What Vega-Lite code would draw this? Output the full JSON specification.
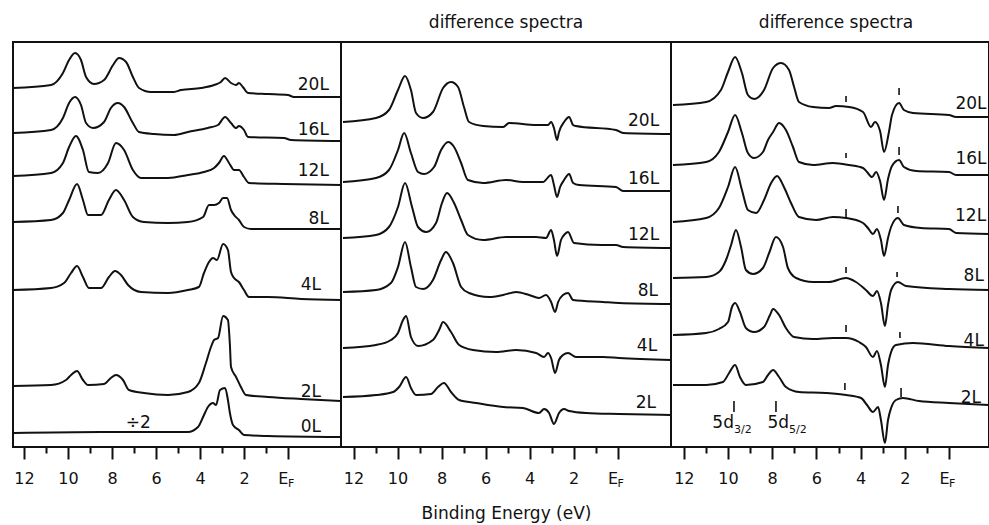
{
  "$schema": "https://vega.github.io/schema/vega-lite/v6.json",
  "padding": {"left": 8, "top": 13, "right": 0, "bottom": 4},
  "spacing": 0,
  "bounds": "flush",
  "config": {
    "view": {"stroke": "#111", "strokeWidth": 2},
    "font": "DejaVu Sans",
    "text": {"font": "DejaVu Sans", "color": "#111"},
    "axisX": {
      "labelExpr": "datum.value === 0 ? 'E' : (datum.value % 2 === 0 ? datum.label : '')",
      "tickSize": {"condition": {"test": "datum.value % 2 === 0", "value": 12}, "value": 6},
      "tickWidth": 2,
      "tickColor": "#111",
      "domain": false,
      "grid": false,
      "labelFont": "DejaVu Sans",
      "labelFontSize": 16,
      "labelColor": "#111",
      "labelPadding": 11,
      "labelAlign": {"condition": {"test": "datum.value === 0", "value": "right"}, "value": "center"},
      "labelFlush": false,
      "labelOverlap": false,
      "labelBound": false,
      "titleFont": "DejaVu Sans",
      "titleFontSize": 17,
      "titleFontWeight": "normal",
      "titleColor": "#111",
      "titlePadding": 19
    },
    "title": {"font": "DejaVu Sans", "fontSize": 17, "fontWeight": "normal", "color": "#111", "anchor": "middle", "baseline": "alphabetic", "offset": 10}
  },
  "datasets": {
    "c1": [
      {"s":"20L","eV":12.5,"I":359},{"s":"20L","eV":10.77,"I":362},{"s":"20L","eV":10.23,"I":374},{"s":"20L","eV":9.95,"I":387},{"s":"20L","eV":9.68,"I":394},{"s":"20L","eV":9.41,"I":387},{"s":"20L","eV":9.18,"I":370},{"s":"20L","eV":8.82,"I":363},{"s":"20L","eV":8.36,"I":367},{"s":"20L","eV":7.95,"I":382},{"s":"20L","eV":7.68,"I":389},{"s":"20L","eV":7.36,"I":385},{"s":"20L","eV":7.05,"I":370},{"s":"20L","eV":6.77,"I":359},{"s":"20L","eV":6.23,"I":355},{"s":"20L","eV":5.18,"I":355},{"s":"20L","eV":4.86,"I":357},{"s":"20L","eV":3.95,"I":359},{"s":"20L","eV":3.36,"I":362},{"s":"20L","eV":3.05,"I":365},{"s":"20L","eV":2.86,"I":369},{"s":"20L","eV":2.59,"I":364},{"s":"20L","eV":2.36,"I":362},{"s":"20L","eV":2.23,"I":364},{"s":"20L","eV":2.05,"I":360},{"s":"20L","eV":1.82,"I":354},{"s":"20L","eV":0.91,"I":353},{"s":"20L","eV":0,"I":352},{"s":"20L","eV":-0.27,"I":350},{"s":"20L","eV":-2.41,"I":350},
      {"s":"16L","eV":12.5,"I":314},{"s":"16L","eV":10.77,"I":317},{"s":"16L","eV":10.23,"I":329},{"s":"16L","eV":9.95,"I":344},{"s":"16L","eV":9.68,"I":350},{"s":"16L","eV":9.41,"I":342},{"s":"16L","eV":9.18,"I":324},{"s":"16L","eV":8.86,"I":319},{"s":"16L","eV":8.36,"I":325},{"s":"16L","eV":8.05,"I":339},{"s":"16L","eV":7.73,"I":344},{"s":"16L","eV":7.45,"I":340},{"s":"16L","eV":7.05,"I":324},{"s":"16L","eV":6.77,"I":315},{"s":"16L","eV":6.09,"I":313},{"s":"16L","eV":5.18,"I":312},{"s":"16L","eV":4.55,"I":315},{"s":"16L","eV":3.64,"I":319},{"s":"16L","eV":3.18,"I":322},{"s":"16L","eV":2.86,"I":330},{"s":"16L","eV":2.59,"I":324},{"s":"16L","eV":2.36,"I":319},{"s":"16L","eV":2.23,"I":321},{"s":"16L","eV":2.0,"I":317},{"s":"16L","eV":1.82,"I":310},{"s":"16L","eV":0.18,"I":309},{"s":"16L","eV":-0.14,"I":307},{"s":"16L","eV":-2.41,"I":306},
      {"s":"12L","eV":12.5,"I":271},{"s":"12L","eV":10.77,"I":274},{"s":"12L","eV":10.23,"I":284},{"s":"12L","eV":9.95,"I":300},{"s":"12L","eV":9.64,"I":311},{"s":"12L","eV":9.32,"I":297},{"s":"12L","eV":9.05,"I":275},{"s":"12L","eV":8.64,"I":274},{"s":"12L","eV":8.18,"I":284},{"s":"12L","eV":7.82,"I":304},{"s":"12L","eV":7.45,"I":297},{"s":"12L","eV":7.05,"I":277},{"s":"12L","eV":6.68,"I":269},{"s":"12L","eV":5.45,"I":269},{"s":"12L","eV":4.55,"I":272},{"s":"12L","eV":3.82,"I":275},{"s":"12L","eV":3.36,"I":279},{"s":"12L","eV":3.14,"I":284},{"s":"12L","eV":2.91,"I":291},{"s":"12L","eV":2.68,"I":284},{"s":"12L","eV":2.45,"I":277},{"s":"12L","eV":2.23,"I":277},{"s":"12L","eV":2.0,"I":270},{"s":"12L","eV":1.77,"I":264},{"s":"12L","eV":0.18,"I":263},{"s":"12L","eV":-2.41,"I":262},
      {"s":"8L","eV":12.5,"I":225},{"s":"8L","eV":10.77,"I":227},{"s":"8L","eV":10.23,"I":234},{"s":"8L","eV":9.95,"I":247},{"s":"8L","eV":9.59,"I":263},{"s":"8L","eV":9.32,"I":247},{"s":"8L","eV":9.09,"I":232},{"s":"8L","eV":8.5,"I":232},{"s":"8L","eV":8.14,"I":247},{"s":"8L","eV":7.82,"I":257},{"s":"8L","eV":7.45,"I":247},{"s":"8L","eV":7.05,"I":230},{"s":"8L","eV":6.55,"I":225},{"s":"8L","eV":5.45,"I":224},{"s":"8L","eV":4.55,"I":225},{"s":"8L","eV":3.86,"I":230},{"s":"8L","eV":3.59,"I":242},{"s":"8L","eV":3.36,"I":242},{"s":"8L","eV":3.14,"I":244},{"s":"8L","eV":2.95,"I":249},{"s":"8L","eV":2.77,"I":249},{"s":"8L","eV":2.59,"I":237},{"s":"8L","eV":2.45,"I":232},{"s":"8L","eV":2.23,"I":227},{"s":"8L","eV":2.0,"I":220},{"s":"8L","eV":1.68,"I":218},{"s":"8L","eV":0.18,"I":218},{"s":"8L","eV":-2.41,"I":218},
      {"s":"4L","eV":12.5,"I":157},{"s":"4L","eV":10.77,"I":159},{"s":"4L","eV":10.18,"I":164},{"s":"4L","eV":9.86,"I":174},{"s":"4L","eV":9.59,"I":181},{"s":"4L","eV":9.32,"I":170},{"s":"4L","eV":9.05,"I":159},{"s":"4L","eV":8.5,"I":159},{"s":"4L","eV":8.14,"I":170},{"s":"4L","eV":7.86,"I":176},{"s":"4L","eV":7.59,"I":172},{"s":"4L","eV":7.27,"I":162},{"s":"4L","eV":6.68,"I":155},{"s":"4L","eV":5.45,"I":154},{"s":"4L","eV":4.55,"I":157},{"s":"4L","eV":4.05,"I":160},{"s":"4L","eV":3.82,"I":174},{"s":"4L","eV":3.59,"I":185},{"s":"4L","eV":3.41,"I":189},{"s":"4L","eV":3.23,"I":187},{"s":"4L","eV":2.95,"I":203},{"s":"4L","eV":2.73,"I":197},{"s":"4L","eV":2.59,"I":175},{"s":"4L","eV":2.45,"I":169},{"s":"4L","eV":2.23,"I":165},{"s":"4L","eV":2.0,"I":157},{"s":"4L","eV":1.77,"I":150},{"s":"4L","eV":0.91,"I":150},{"s":"4L","eV":-0.59,"I":148},{"s":"4L","eV":-2.41,"I":147},
      {"s":"2L","eV":12.5,"I":61},{"s":"2L","eV":10.77,"I":62},{"s":"2L","eV":10.09,"I":67},{"s":"2L","eV":9.86,"I":72},{"s":"2L","eV":9.59,"I":76},{"s":"2L","eV":9.32,"I":67},{"s":"2L","eV":9.09,"I":62},{"s":"2L","eV":8.36,"I":63},{"s":"2L","eV":8.05,"I":69},{"s":"2L","eV":7.82,"I":72},{"s":"2L","eV":7.5,"I":67},{"s":"2L","eV":7.23,"I":57},{"s":"2L","eV":6.55,"I":54},{"s":"2L","eV":5.45,"I":52},{"s":"2L","eV":4.55,"I":55},{"s":"2L","eV":4.05,"I":64},{"s":"2L","eV":3.73,"I":84},{"s":"2L","eV":3.5,"I":100},{"s":"2L","eV":3.36,"I":107},{"s":"2L","eV":3.18,"I":109},{"s":"2L","eV":2.95,"I":131},{"s":"2L","eV":2.73,"I":127},{"s":"2L","eV":2.64,"I":102},{"s":"2L","eV":2.59,"I":80},{"s":"2L","eV":2.36,"I":70},{"s":"2L","eV":2.14,"I":60},{"s":"2L","eV":1.91,"I":52},{"s":"2L","eV":0.91,"I":50},{"s":"2L","eV":-0.59,"I":48},{"s":"2L","eV":-2.41,"I":46},
      {"s":"0L","eV":12.5,"I":14},{"s":"0L","eV":8.5,"I":15},{"s":"0L","eV":4.55,"I":15},{"s":"0L","eV":4.09,"I":20},{"s":"0L","eV":3.86,"I":30},{"s":"0L","eV":3.64,"I":40},{"s":"0L","eV":3.41,"I":44},{"s":"0L","eV":3.27,"I":42},{"s":"0L","eV":3.09,"I":57},{"s":"0L","eV":2.86,"I":59},{"s":"0L","eV":2.73,"I":47},{"s":"0L","eV":2.64,"I":34},{"s":"0L","eV":2.5,"I":22},{"s":"0L","eV":2.23,"I":17},{"s":"0L","eV":2.0,"I":12},{"s":"0L","eV":0.91,"I":11},{"s":"0L","eV":-2.41,"I":10}
    ],
    "c2": [
      {"s":"20L","eV":12.48,"I":325},{"s":"20L","eV":10.98,"I":329},{"s":"20L","eV":10.39,"I":337},{"s":"20L","eV":9.98,"I":357},{"s":"20L","eV":9.66,"I":371},{"s":"20L","eV":9.39,"I":357},{"s":"20L","eV":9.16,"I":334},{"s":"20L","eV":8.84,"I":329},{"s":"20L","eV":8.39,"I":335},{"s":"20L","eV":7.93,"I":359},{"s":"20L","eV":7.57,"I":365},{"s":"20L","eV":7.25,"I":360},{"s":"20L","eV":6.98,"I":340},{"s":"20L","eV":6.75,"I":325},{"s":"20L","eV":6.11,"I":321},{"s":"20L","eV":5.2,"I":320},{"s":"20L","eV":4.93,"I":324},{"s":"20L","eV":3.7,"I":322},{"s":"20L","eV":3.16,"I":322},{"s":"20L","eV":3.02,"I":325},{"s":"20L","eV":2.89,"I":319},{"s":"20L","eV":2.75,"I":307},{"s":"20L","eV":2.66,"I":315},{"s":"20L","eV":2.43,"I":325},{"s":"20L","eV":2.2,"I":330},{"s":"20L","eV":2.02,"I":322},{"s":"20L","eV":1.89,"I":321},{"s":"20L","eV":0.07,"I":317},{"s":"20L","eV":-0.25,"I":314},{"s":"20L","eV":-2.43,"I":313},
      {"s":"16L","eV":12.48,"I":265},{"s":"16L","eV":10.98,"I":269},{"s":"16L","eV":10.39,"I":277},{"s":"16L","eV":9.98,"I":297},{"s":"16L","eV":9.7,"I":314},{"s":"16L","eV":9.39,"I":294},{"s":"16L","eV":9.07,"I":275},{"s":"16L","eV":8.8,"I":273},{"s":"16L","eV":8.34,"I":280},{"s":"16L","eV":8.02,"I":297},{"s":"16L","eV":7.7,"I":305},{"s":"16L","eV":7.43,"I":300},{"s":"16L","eV":7.11,"I":284},{"s":"16L","eV":6.8,"I":267},{"s":"16L","eV":6.11,"I":264},{"s":"16L","eV":5.07,"I":267},{"s":"16L","eV":4.3,"I":265},{"s":"16L","eV":3.39,"I":265},{"s":"16L","eV":3.02,"I":272},{"s":"16L","eV":2.89,"I":262},{"s":"16L","eV":2.75,"I":250},{"s":"16L","eV":2.61,"I":260},{"s":"16L","eV":2.43,"I":267},{"s":"16L","eV":2.2,"I":273},{"s":"16L","eV":2.02,"I":264},{"s":"16L","eV":1.75,"I":262},{"s":"16L","eV":0.07,"I":260},{"s":"16L","eV":-0.25,"I":256},{"s":"16L","eV":-2.43,"I":256},
      {"s":"12L","eV":12.48,"I":209},{"s":"12L","eV":10.98,"I":212},{"s":"12L","eV":10.39,"I":220},{"s":"12L","eV":9.98,"I":240},{"s":"12L","eV":9.66,"I":264},{"s":"12L","eV":9.34,"I":240},{"s":"12L","eV":9.07,"I":220},{"s":"12L","eV":8.7,"I":215},{"s":"12L","eV":8.25,"I":224},{"s":"12L","eV":7.98,"I":244},{"s":"12L","eV":7.75,"I":254},{"s":"12L","eV":7.43,"I":244},{"s":"12L","eV":7.11,"I":227},{"s":"12L","eV":6.8,"I":212},{"s":"12L","eV":6.11,"I":207},{"s":"12L","eV":5.07,"I":210},{"s":"12L","eV":3.7,"I":210},{"s":"12L","eV":3.25,"I":209},{"s":"12L","eV":3.02,"I":217},{"s":"12L","eV":2.89,"I":207},{"s":"12L","eV":2.75,"I":191},{"s":"12L","eV":2.57,"I":207},{"s":"12L","eV":2.39,"I":213},{"s":"12L","eV":2.25,"I":215},{"s":"12L","eV":1.98,"I":204},{"s":"12L","eV":0.75,"I":202},{"s":"12L","eV":0.07,"I":202},{"s":"12L","eV":-0.25,"I":200},{"s":"12L","eV":-2.43,"I":199},
      {"s":"8L","eV":12.48,"I":155},{"s":"8L","eV":10.98,"I":157},{"s":"8L","eV":10.3,"I":164},{"s":"8L","eV":9.98,"I":180},{"s":"8L","eV":9.66,"I":205},{"s":"8L","eV":9.39,"I":180},{"s":"8L","eV":9.16,"I":160},{"s":"8L","eV":8.84,"I":158},{"s":"8L","eV":8.39,"I":167},{"s":"8L","eV":8.02,"I":187},{"s":"8L","eV":7.8,"I":195},{"s":"8L","eV":7.48,"I":184},{"s":"8L","eV":7.11,"I":160},{"s":"8L","eV":6.75,"I":154},{"s":"8L","eV":5.84,"I":150},{"s":"8L","eV":5.2,"I":152},{"s":"8L","eV":4.61,"I":155},{"s":"8L","eV":4.02,"I":152},{"s":"8L","eV":3.57,"I":149},{"s":"8L","eV":3.25,"I":152},{"s":"8L","eV":3.02,"I":145},{"s":"8L","eV":2.84,"I":135},{"s":"8L","eV":2.7,"I":145},{"s":"8L","eV":2.48,"I":152},{"s":"8L","eV":2.25,"I":154},{"s":"8L","eV":2.02,"I":147},{"s":"8L","eV":0.66,"I":145},{"s":"8L","eV":-0.07,"I":144},{"s":"8L","eV":-2.43,"I":143},
      {"s":"4L","eV":12.48,"I":99},{"s":"4L","eV":10.98,"I":102},{"s":"4L","eV":10.3,"I":107},{"s":"4L","eV":9.98,"I":114},{"s":"4L","eV":9.75,"I":127},{"s":"4L","eV":9.61,"I":131},{"s":"4L","eV":9.39,"I":110},{"s":"4L","eV":9.07,"I":101},{"s":"4L","eV":8.39,"I":107},{"s":"4L","eV":8.11,"I":117},{"s":"4L","eV":7.93,"I":125},{"s":"4L","eV":7.57,"I":115},{"s":"4L","eV":7.2,"I":102},{"s":"4L","eV":6.57,"I":97},{"s":"4L","eV":5.52,"I":95},{"s":"4L","eV":4.61,"I":97},{"s":"4L","eV":3.7,"I":94},{"s":"4L","eV":3.34,"I":90},{"s":"4L","eV":3.16,"I":94},{"s":"4L","eV":3.02,"I":89},{"s":"4L","eV":2.84,"I":74},{"s":"4L","eV":2.66,"I":87},{"s":"4L","eV":2.48,"I":92},{"s":"4L","eV":2.25,"I":94},{"s":"4L","eV":1.89,"I":90},{"s":"4L","eV":0.66,"I":90},{"s":"4L","eV":-0.07,"I":89},{"s":"4L","eV":-2.43,"I":87},
      {"s":"2L","eV":12.48,"I":50},{"s":"2L","eV":10.98,"I":52},{"s":"2L","eV":10.2,"I":55},{"s":"2L","eV":9.93,"I":60},{"s":"2L","eV":9.61,"I":70},{"s":"2L","eV":9.39,"I":59},{"s":"2L","eV":9.16,"I":52},{"s":"2L","eV":8.48,"I":53},{"s":"2L","eV":8.16,"I":60},{"s":"2L","eV":7.89,"I":64},{"s":"2L","eV":7.57,"I":55},{"s":"2L","eV":7.2,"I":47},{"s":"2L","eV":6.43,"I":44},{"s":"2L","eV":5.2,"I":40},{"s":"2L","eV":4.3,"I":39},{"s":"2L","eV":3.57,"I":34},{"s":"2L","eV":3.34,"I":38},{"s":"2L","eV":3.11,"I":34},{"s":"2L","eV":2.89,"I":23},{"s":"2L","eV":2.66,"I":34},{"s":"2L","eV":2.43,"I":38},{"s":"2L","eV":2.2,"I":36},{"s":"2L","eV":1.43,"I":34},{"s":"2L","eV":-0.07,"I":33},{"s":"2L","eV":-2.43,"I":32}
    ],
    "c3": [
      {"s":"20L","eV":12.49,"I":342},{"s":"20L","eV":10.99,"I":345},{"s":"20L","eV":10.32,"I":357},{"s":"20L","eV":10.0,"I":375},{"s":"20L","eV":9.68,"I":390},{"s":"20L","eV":9.37,"I":374},{"s":"20L","eV":9.1,"I":352},{"s":"20L","eV":8.82,"I":348},{"s":"20L","eV":8.37,"I":357},{"s":"20L","eV":7.96,"I":379},{"s":"20L","eV":7.6,"I":384},{"s":"20L","eV":7.24,"I":377},{"s":"20L","eV":7.01,"I":360},{"s":"20L","eV":6.79,"I":345},{"s":"20L","eV":6.15,"I":340},{"s":"20L","eV":5.43,"I":339},{"s":"20L","eV":5.11,"I":341},{"s":"20L","eV":4.52,"I":340},{"s":"20L","eV":3.89,"I":335},{"s":"20L","eV":3.53,"I":320},{"s":"20L","eV":3.35,"I":325},{"s":"20L","eV":3.12,"I":316},{"s":"20L","eV":2.94,"I":295},{"s":"20L","eV":2.71,"I":316},{"s":"20L","eV":2.58,"I":332},{"s":"20L","eV":2.26,"I":344},{"s":"20L","eV":2.04,"I":337},{"s":"20L","eV":1.63,"I":334},{"s":"20L","eV":0,"I":332},{"s":"20L","eV":-0.32,"I":330},{"s":"20L","eV":-1.81,"I":330},
      {"s":"16L","eV":12.49,"I":282},{"s":"16L","eV":10.99,"I":285},{"s":"16L","eV":10.41,"I":295},{"s":"16L","eV":10.0,"I":315},{"s":"16L","eV":9.68,"I":332},{"s":"16L","eV":9.37,"I":314},{"s":"16L","eV":9.1,"I":294},{"s":"16L","eV":8.82,"I":289},{"s":"16L","eV":8.42,"I":295},{"s":"16L","eV":8.19,"I":307},{"s":"16L","eV":7.96,"I":315},{"s":"16L","eV":7.69,"I":324},{"s":"16L","eV":7.38,"I":317},{"s":"16L","eV":7.06,"I":300},{"s":"16L","eV":6.79,"I":285},{"s":"16L","eV":6.15,"I":282},{"s":"16L","eV":5.25,"I":284},{"s":"16L","eV":4.52,"I":282},{"s":"16L","eV":3.89,"I":279},{"s":"16L","eV":3.71,"I":275},{"s":"16L","eV":3.48,"I":270},{"s":"16L","eV":3.3,"I":275},{"s":"16L","eV":3.12,"I":266},{"s":"16L","eV":2.94,"I":247},{"s":"16L","eV":2.76,"I":268},{"s":"16L","eV":2.58,"I":281},{"s":"16L","eV":2.26,"I":287},{"s":"16L","eV":2.04,"I":280},{"s":"16L","eV":1.49,"I":276},{"s":"16L","eV":0,"I":275},{"s":"16L","eV":-0.32,"I":272},{"s":"16L","eV":-1.81,"I":272},
      {"s":"12L","eV":12.49,"I":225},{"s":"12L","eV":10.99,"I":229},{"s":"12L","eV":10.41,"I":239},{"s":"12L","eV":10.0,"I":260},{"s":"12L","eV":9.68,"I":280},{"s":"12L","eV":9.37,"I":257},{"s":"12L","eV":9.1,"I":237},{"s":"12L","eV":8.73,"I":234},{"s":"12L","eV":8.37,"I":247},{"s":"12L","eV":8.05,"I":264},{"s":"12L","eV":7.78,"I":271},{"s":"12L","eV":7.47,"I":260},{"s":"12L","eV":7.15,"I":244},{"s":"12L","eV":6.79,"I":230},{"s":"12L","eV":6.02,"I":227},{"s":"12L","eV":5.25,"I":230},{"s":"12L","eV":4.66,"I":229},{"s":"12L","eV":3.89,"I":224},{"s":"12L","eV":3.67,"I":219},{"s":"12L","eV":3.44,"I":213},{"s":"12L","eV":3.26,"I":218},{"s":"12L","eV":3.08,"I":207},{"s":"12L","eV":2.94,"I":191},{"s":"12L","eV":2.76,"I":209},{"s":"12L","eV":2.62,"I":220},{"s":"12L","eV":2.31,"I":229},{"s":"12L","eV":2.04,"I":222},{"s":"12L","eV":1.27,"I":219},{"s":"12L","eV":0,"I":218},{"s":"12L","eV":-0.32,"I":214},{"s":"12L","eV":-1.81,"I":213},
      {"s":"8L","eV":12.49,"I":169},{"s":"8L","eV":10.99,"I":170},{"s":"8L","eV":10.41,"I":175},{"s":"8L","eV":10.09,"I":187},{"s":"8L","eV":9.86,"I":202},{"s":"8L","eV":9.64,"I":217},{"s":"8L","eV":9.41,"I":200},{"s":"8L","eV":9.19,"I":177},{"s":"8L","eV":8.87,"I":173},{"s":"8L","eV":8.42,"I":179},{"s":"8L","eV":8.14,"I":194},{"s":"8L","eV":7.83,"I":210},{"s":"8L","eV":7.51,"I":200},{"s":"8L","eV":7.29,"I":179},{"s":"8L","eV":6.92,"I":169},{"s":"8L","eV":6.15,"I":165},{"s":"8L","eV":5.43,"I":165},{"s":"8L","eV":4.66,"I":169},{"s":"8L","eV":4.21,"I":165},{"s":"8L","eV":3.76,"I":157},{"s":"8L","eV":3.44,"I":151},{"s":"8L","eV":3.26,"I":156},{"s":"8L","eV":3.08,"I":144},{"s":"8L","eV":2.9,"I":121},{"s":"8L","eV":2.76,"I":142},{"s":"8L","eV":2.62,"I":157},{"s":"8L","eV":2.31,"I":165},{"s":"8L","eV":1.95,"I":161},{"s":"8L","eV":0,"I":158},{"s":"8L","eV":-1.81,"I":157},
      {"s":"4L","eV":12.49,"I":112},{"s":"4L","eV":10.99,"I":114},{"s":"4L","eV":10.41,"I":118},{"s":"4L","eV":10.0,"I":125},{"s":"4L","eV":9.82,"I":140},{"s":"4L","eV":9.68,"I":144},{"s":"4L","eV":9.46,"I":135},{"s":"4L","eV":9.19,"I":119},{"s":"4L","eV":8.82,"I":115},{"s":"4L","eV":8.37,"I":120},{"s":"4L","eV":8.1,"I":132},{"s":"4L","eV":7.96,"I":138},{"s":"4L","eV":7.69,"I":132},{"s":"4L","eV":7.38,"I":119},{"s":"4L","eV":7.01,"I":110},{"s":"4L","eV":6.15,"I":108},{"s":"4L","eV":5.25,"I":109},{"s":"4L","eV":4.66,"I":109},{"s":"4L","eV":4.07,"I":105},{"s":"4L","eV":3.76,"I":100},{"s":"4L","eV":3.44,"I":90},{"s":"4L","eV":3.26,"I":96},{"s":"4L","eV":3.08,"I":82},{"s":"4L","eV":2.9,"I":60},{"s":"4L","eV":2.76,"I":82},{"s":"4L","eV":2.62,"I":95},{"s":"4L","eV":2.4,"I":102},{"s":"4L","eV":1.63,"I":104},{"s":"4L","eV":0,"I":101},{"s":"4L","eV":-1.81,"I":99},
      {"s":"2L","eV":12.49,"I":62},{"s":"2L","eV":10.99,"I":62},{"s":"2L","eV":10.23,"I":65},{"s":"2L","eV":9.95,"I":74},{"s":"2L","eV":9.68,"I":82},{"s":"2L","eV":9.46,"I":70},{"s":"2L","eV":9.19,"I":62},{"s":"2L","eV":8.42,"I":65},{"s":"2L","eV":8.19,"I":72},{"s":"2L","eV":7.96,"I":77},{"s":"2L","eV":7.69,"I":70},{"s":"2L","eV":7.38,"I":60},{"s":"2L","eV":6.79,"I":55},{"s":"2L","eV":5.57,"I":54},{"s":"2L","eV":4.66,"I":52},{"s":"2L","eV":3.98,"I":49},{"s":"2L","eV":3.71,"I":42},{"s":"2L","eV":3.44,"I":35},{"s":"2L","eV":3.21,"I":40},{"s":"2L","eV":3.08,"I":27},{"s":"2L","eV":2.9,"I":4},{"s":"2L","eV":2.76,"I":27},{"s":"2L","eV":2.62,"I":39},{"s":"2L","eV":2.4,"I":47},{"s":"2L","eV":2.08,"I":49},{"s":"2L","eV":1.36,"I":46},{"s":"2L","eV":0,"I":44},{"s":"2L","eV":-1.81,"I":42}
    ],
    "l1": [{"s":"20L","eV":-1.86,"I":362},{"s":"16L","eV":-1.86,"I":317},{"s":"12L","eV":-1.86,"I":276},{"s":"8L","eV":-1.86,"I":228},{"s":"4L","eV":-1.5,"I":162},{"s":"2L","eV":-1.5,"I":55},{"s":"0L","eV":-1.5,"I":20}],
    "l2": [{"s":"20L","eV":-1.89,"I":326},{"s":"16L","eV":-1.89,"I":268},{"s":"12L","eV":-1.89,"I":212},{"s":"8L","eV":-1.84,"I":156},{"s":"4L","eV":-1.8,"I":101},{"s":"2L","eV":-1.75,"I":44}],
    "l3": [{"s":"20L","eV":-1.7,"I":343},{"s":"16L","eV":-1.7,"I":288},{"s":"12L","eV":-1.68,"I":231},{"s":"8L","eV":-1.58,"I":171},{"s":"4L","eV":-1.58,"I":106},{"s":"2L","eV":-1.45,"I":49}],
    "m3": [{"eV":4.66,"I":345,"I2":351},{"eV":2.26,"I":352,"I2":359},{"eV":4.66,"I":289,"I2":294},{"eV":2.26,"I":292,"I2":300},{"eV":4.66,"I":230,"I2":238},{"eV":2.31,"I":234,"I2":241},{"eV":4.66,"I":174,"I2":180},{"eV":2.35,"I":170,"I2":175},{"eV":4.66,"I":115,"I2":122},{"eV":2.22,"I":109,"I2":115},{"eV":4.71,"I":57,"I2":64},{"eV":2.17,"I":50,"I2":59},{"eV":9.73,"I":35,"I2":46},{"eV":7.83,"I":35,"I2":46}],
    "f": [{"eV":0,"I":-37,"t":"F"}]
  },
  "hconcat": [
    {
      "width": 328, "height": 405,
      "encoding": {
        "x": {"field": "eV", "type": "quantitative", "scale": {"domain": [12.5, -2.41], "nice": false, "zero": false}, "axis": {"title": null, "values": [0, 1, 2, 3, 4, 5, 6, 7, 8, 9, 10, 11, 12]}},
        "y": {"field": "I", "type": "quantitative", "scale": {"domain": [0, 405], "nice": false, "zero": false}, "axis": null}
      },
      "layer": [
        {"data": {"name": "c1"}, "mark": {"type": "line", "interpolate": "monotone", "strokeWidth": 2, "color": "#111"}, "encoding": {"detail": {"field": "s"}}},
        {"data": {"name": "l1"}, "mark": {"type": "text", "align": "right", "baseline": "middle", "fontSize": 17}, "encoding": {"text": {"field": "s"}}},
        {"data": {"values": [{"eV": 6.8, "I": 24, "t": "÷2"}]}, "mark": {"type": "text", "align": "center", "baseline": "middle", "fontSize": 17}, "encoding": {"text": {"field": "t"}}},
        {"data": {"name": "f"}, "mark": {"type": "text", "align": "left", "baseline": "middle", "fontSize": 11}, "encoding": {"text": {"field": "t"}}}
      ]
    },
    {
      "width": 330, "height": 405,
      "title": {"text": "difference spectra"},
      "encoding": {
        "x": {"field": "eV", "type": "quantitative", "scale": {"domain": [12.57, -2.43], "nice": false, "zero": false}, "axis": {"title": "Binding  Energy  (eV)", "values": [0, 1, 2, 3, 4, 5, 6, 7, 8, 9, 10, 11, 12]}},
        "y": {"field": "I", "type": "quantitative", "scale": {"domain": [0, 405], "nice": false, "zero": false}, "axis": null}
      },
      "layer": [
        {"data": {"name": "c2"}, "mark": {"type": "line", "interpolate": "monotone", "strokeWidth": 2, "color": "#111"}, "encoding": {"detail": {"field": "s"}}},
        {"data": {"name": "l2"}, "mark": {"type": "text", "align": "right", "baseline": "middle", "fontSize": 17}, "encoding": {"text": {"field": "s"}}},
        {"data": {"name": "f"}, "mark": {"type": "text", "align": "left", "baseline": "middle", "fontSize": 11}, "encoding": {"text": {"field": "t"}}}
      ]
    },
    {
      "width": 318, "height": 405,
      "title": {"text": "difference spectra", "dx": 6},
      "encoding": {
        "x": {"field": "eV", "type": "quantitative", "scale": {"domain": [12.58, -1.81], "nice": false, "zero": false}, "axis": {"title": null, "values": [0, 1, 2, 3, 4, 5, 6, 7, 8, 9, 10, 11, 12]}},
        "y": {"field": "I", "type": "quantitative", "scale": {"domain": [0, 405], "nice": false, "zero": false}, "axis": null}
      },
      "layer": [
        {"data": {"name": "c3"}, "mark": {"type": "line", "interpolate": "monotone", "strokeWidth": 2, "color": "#111"}, "encoding": {"detail": {"field": "s"}}},
        {"data": {"name": "m3"}, "mark": {"type": "rule", "strokeWidth": 1.6, "color": "#111"}, "encoding": {"y2": {"field": "I2"}}},
        {"data": {"name": "l3"}, "mark": {"type": "text", "align": "right", "baseline": "middle", "fontSize": 17}, "encoding": {"text": {"field": "s"}}},
        {"data": {"values": [{"eV": 9.73, "I": 24.5, "t": "5d"}, {"eV": 7.24, "I": 24.5, "t": "5d"}]}, "mark": {"type": "text", "align": "right", "baseline": "middle", "fontSize": 17}, "encoding": {"text": {"field": "t"}}},
        {"data": {"values": [{"eV": 9.73, "I": 17, "t": "3/2"}, {"eV": 7.24, "I": 17, "t": "5/2"}]}, "mark": {"type": "text", "align": "left", "baseline": "middle", "fontSize": 11}, "encoding": {"text": {"field": "t"}}},
        {"data": {"name": "f"}, "mark": {"type": "text", "align": "left", "baseline": "middle", "fontSize": 11}, "encoding": {"text": {"field": "t"}}}
      ]
    }
  ]
}
